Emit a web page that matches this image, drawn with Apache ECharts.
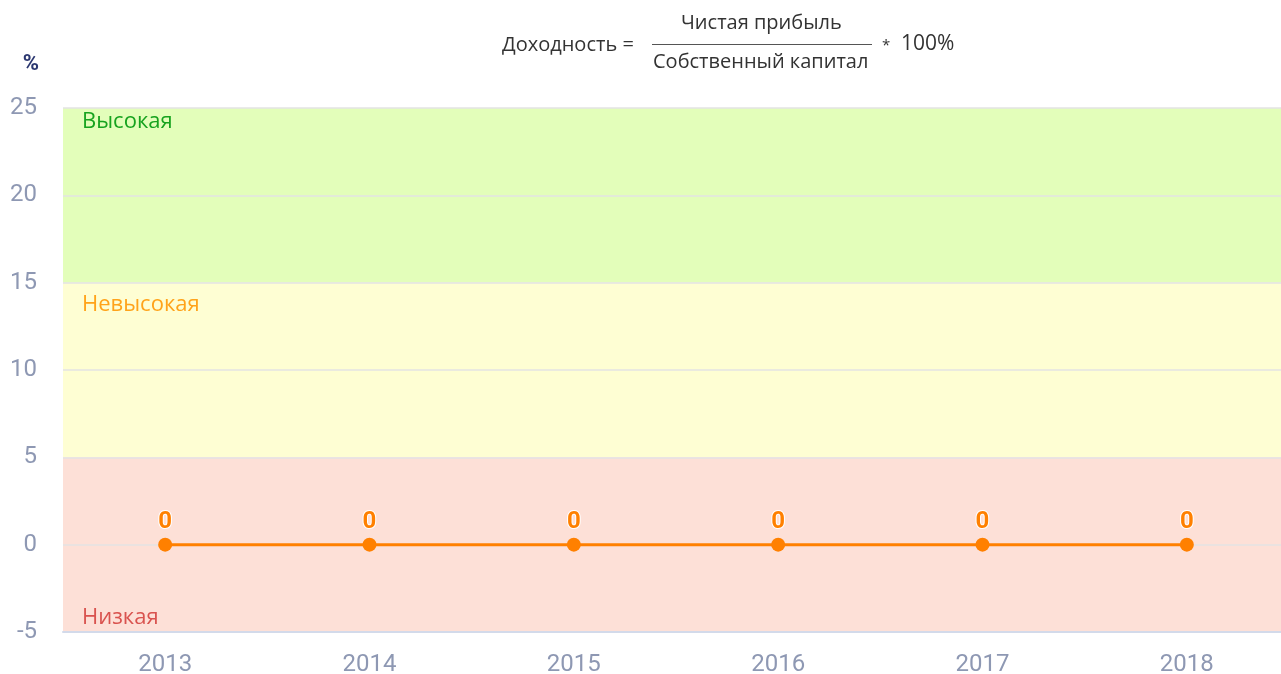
<!DOCTYPE html>
<html>
<head>
<meta charset="utf-8">
<script src="https://cdn.jsdelivr.net/npm/echarts@6/dist/echarts.min.js"></script>
<style>
  html, body { margin: 0; padding: 0; background: #fff; }
  #chart { width: 1281px; height: 674px; }
</style>
</head>
<body>
<div id="chart"></div>
<script>
// data
const years = ['2013', '2014', '2015', '2016', '2017', '2018']
const profitability = [0, 0, 0, 0, 0, 0]
const zoneNames = ['Высокая', 'Невысокая', 'Низкая']
const zoneFrom = [15, 5, -5]
const zoneTo = [25, 15, 5]
const zoneColors = ['#e3feba', '#fefed3', '#fde0d7']
const zoneTextColors = ['#17a31f', '#ffa31a', '#d9534f']
const yTicks = { min: -5, max: 25, step: 5 }

const font = '"Open Sans", "Noto Sans", sans-serif'
const labelShift = [0, 8, 0]

let zones = zoneNames.map(function(name, i) {
  return [{
    name: name,
    yAxis: zoneFrom[i],
    itemStyle: { color: zoneColors[i] },
    label: {
      color: zoneTextColors[i],
      position: i == 2 ? 'insideBottomLeft' : 'insideTopLeft',
      distance: 3,
      offset: [16, labelShift[i]]
    }
  }, { yAxis: zoneTo[i] }]
})

let chart = echarts.init(document.getElementById('chart'))
chart.setOption({
  animation: false,
  grid: { left: 63, width: 1226, top: 108, bottom: 42, containLabel: false, outerBoundsMode: 'none' },
  graphic: [
    { type: 'text', left: 502, top: 35, style: { text: 'Доходность =', font: '20px ' + font, fill: '#333' } },
    { type: 'text', left: 681, top: 13, style: { text: 'Чистая прибыль', font: '20px ' + font, fill: '#333' } },
    { type: 'line', shape: { x1: 652, y1: 44.5, x2: 872, y2: 44.5 }, style: { stroke: '#555', lineWidth: 1 } },
    { type: 'text', left: 653, top: 52, style: { text: 'Собственный капитал', font: '20px ' + font, fill: '#333' } },
    { type: 'text', left: 882, top: 38, style: { text: '*', font: '15px ' + font, fill: '#333' } },
    { type: 'text', left: 901, top: 34, style: { text: '100%', font: '21px ' + font, fill: '#333' } }
  ],
  xAxis: {
    type: 'category',
    data: years,
    z: 3,
    axisLine: { onZero: false, lineStyle: { color: '#d3daea', width: 2 } },
    axisTick: { show: false },
    axisLabel: { color: '#8e98b3', fontSize: 24, fontFamily: 'Roboto', margin: 21 }
  },
  yAxis: {
    type: 'value',
    min: yTicks.min,
    max: yTicks.max,
    interval: yTicks.step,
    z: 3,
    name: '%',
    nameLocation: 'end',
    nameGap: 33,
    nameTextStyle: { color: '#2b3770', fontWeight: 'bold', fontSize: 22, fontFamily: 'Roboto', align: 'right', padding: [0, 24, 0, 0] },
    axisLine: { show: false },
    axisTick: { show: false },
    axisLabel: { color: '#8e98b3', fontSize: 24, fontFamily: 'Roboto', margin: 26 },
    splitLine: { lineStyle: { color: '#e3e3e3', width: 1.5 } }
  },
  series: [
    {
      name: 'zones',
      type: 'line',
      z: 2,
      data: profitability,
      symbol: 'none',
      lineStyle: { width: 0 },
      silent: true,
      markArea: {
        silent: true,
        label: { show: true, fontSize: 22, fontFamily: font },
        data: zones
      }
    },
    {
      name: 'Доходность',
      type: 'line',
      z: 4,
      data: profitability,
      symbol: 'circle',
      symbolSize: 14,
      itemStyle: { color: '#ff8000' },
      lineStyle: { color: '#ff8000', width: 3 },
      label: {
        show: true,
        position: 'top',
        distance: 4,
        color: '#ff8000',
        fontSize: 24,
        fontWeight: 'bold',
        fontFamily: 'Roboto',
        textBorderColor: '#fff',
        textBorderWidth: 2
      }
    }
  ]
})
</script>
</body>
</html>
